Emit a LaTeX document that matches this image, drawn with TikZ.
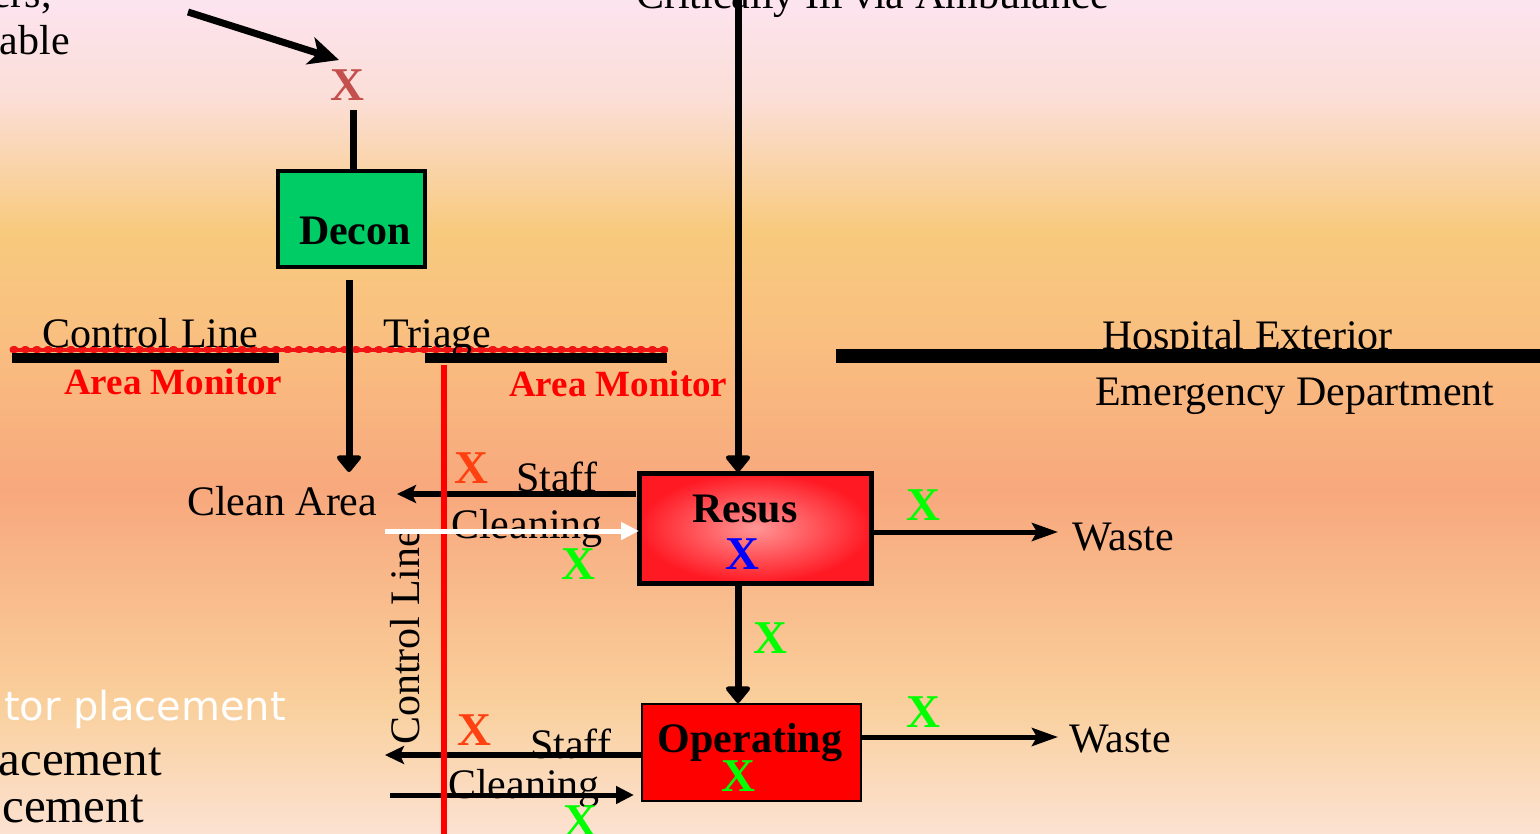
\documentclass[tikz,border=0pt]{standalone}
\usepackage{fontspec}
\setmainfont{Liberation Serif}
\newfontfamily\sansf{DejaVu Sans}
\usetikzlibrary{arrows.meta}
\definecolor{bgA}{RGB}{252,228,240}
\definecolor{bgB}{RGB}{251,222,214}
\definecolor{bgC}{RGB}{248,202,125}
\definecolor{bgD}{RGB}{249,192,128}
\definecolor{bgE}{RGB}{248,168,125}
\definecolor{bgF}{RGB}{249,207,155}
\definecolor{bgG}{RGB}{252,226,210}
\definecolor{decongreen}{RGB}{0,204,102}
\definecolor{xbrown}{RGB}{196,80,77}
\definecolor{xorange}{RGB}{255,64,16}
\definecolor{xgreen}{RGB}{0,255,0}
\definecolor{xblue}{RGB}{0,0,255}
\definecolor{linered}{RGB}{240,20,20}
\definecolor{resuscenter}{RGB}{255,150,150}
\definecolor{resusedge}{RGB}{255,25,35}
\tikzset{
  lbl/.style={inner sep=0pt, font=\fontsize{42}{48}\selectfont},
  bigl/.style={inner sep=0pt, font=\fontsize{49}{56}\selectfont},
  amon/.style={inner sep=0pt, text=red, font=\fontsize{37}{44}\selectfont\bfseries},
  boxtext/.style={inner sep=0pt, font=\fontsize{42}{48}\selectfont\bfseries},
  xmark/.style={inner sep=0pt, font=\fontsize{47}{52}\selectfont\bfseries},
  heavy/.style={line width=7pt, -{Triangle[length=18pt,width=28pt,round]}},
  staffarr/.style={line width=6pt, -{Stealth[length=19pt,width=18pt,inset=4pt]}},
  cleanarr/.style={line width=5pt, -{Triangle[length=18pt,width=17pt]}},
  wastearr/.style={line width=5pt, -{Stealth[length=26pt,width=18pt,inset=5pt]}},
  barrier/.style={line width=10pt},
}
\begin{document}
\begin{tikzpicture}[x=1pt,y=-1pt]
\useasboundingbox (0,0) rectangle (1540,834);
\clip (0,0) rectangle (1540,834);
% background
\shade[top color=bgA, bottom color=bgB] (0,-2) rectangle (1540,101);
\shade[top color=bgB, bottom color=bgC] (0,100) rectangle (1540,231);
\shade[top color=bgC, bottom color=bgD] (0,230) rectangle (1540,331);
\shade[top color=bgD, bottom color=bgE] (0,330) rectangle (1540,491);
\shade[top color=bgE, bottom color=bgF] (0,490) rectangle (1540,701);
\shade[top color=bgF, bottom color=bgG] (0,700) rectangle (1540,836);

% texts cut at the edges
\node[lbl, anchor=base east] (ers) at (52,8) {ers,};
\node[lbl, anchor=base east] (able) at (70,55) {able};
\node[lbl, anchor=base west] (amb) at (636,9) {Critically Ill via Ambulance};
\node[inner sep=0pt, anchor=base east, text=white, font=\sansf\fontsize{40}{46}\selectfont] (tor) at (286,720) {tor placement};
\node[bigl, anchor=base east] (acem) at (162,775) {acement};
\node[bigl, anchor=base east] (cem) at (144,822) {cement};

% barriers
\draw[barrier] (12,358) -- (279,358);
\draw[barrier] (425,358) -- (667,358);
\draw[line width=14pt] (836,356) -- (1545,356);
\draw[linered, line width=4pt] (10,350) -- (668,350);
\draw[linered, line width=7pt, line cap=round, dash pattern=on 2pt off 9.4pt] (13,350) -- (666,350);

\node[lbl, anchor=base west] (cl) at (42,348) {Control Line};
\node[lbl, anchor=base west] (tri) at (383,348) {Triage};
\node[lbl, anchor=base west] (hex) at (1102,350) {Hospital Exterior};
\node[lbl, anchor=base west] (ed) at (1095,405) {Emergency Department};
\node[amon, anchor=base west] (am1) at (64,394) {Area Monitor};
\node[amon, anchor=base west] (am2) at (509,396) {Area Monitor};

% decon
\node[draw, line width=4pt, fill=decongreen, minimum width=147pt, minimum height=96pt, outer sep=0pt] (decon) at (351.5,219) {};
\node[boxtext, anchor=base] (decont) at (355,245) {Decon};
\node[xmark, text=xbrown] (xdec) at (347,85) {X};
\coordinate (tl1) at (188,12);
\coordinate (tl2) at (339,60);
\draw[line width=7pt, -{Stealth[length=30pt,width=28pt,inset=8pt]}] (tl1) -- (tl2);
\coordinate (dtop) at (353,110);
\draw[line width=7pt] (dtop) -- (dtop |- decon.north);
\coordinate (d1) at (349,280);
\coordinate (d2) at (349,472);
\draw[heavy] (d1) -- (d2);
\node[lbl, anchor=base west] (clean) at (187,515) {Clean Area};

% resus
\node[draw, line width=5pt, inner color=resuscenter, outer color=resusedge, minimum width=232pt, minimum height=110pt, outer sep=0pt] (resus) at (755,528) {};
\node[boxtext, anchor=base] (resust) at (745,522) {Resus};
\node[xmark, text=xblue] (xres) at (742,554) {X};
\coordinate (ambl) at (738,-5);
\draw[heavy] (ambl) -- ([yshift=1pt]ambl |- resus.north);

% operating
\node[draw, line width=2pt, fill=red, minimum width=219pt, minimum height=97pt, outer sep=0pt] (op) at (751.5,752.5) {};
\node[boxtext, anchor=base] (opt) at (750,752) {Operating};
\node[xmark, text=xgreen] (xop) at (738,776) {X};
\draw[heavy] (ambl |- resus.south) -- ([yshift=1pt]ambl |- op.north);
\node[xmark, text=xgreen] (xro) at (770,638) {X};

% waste
\node[lbl, anchor=base west] (w1) at (1072,550) {Waste};
\node[lbl, anchor=base west] (w2) at (1069,752) {Waste};
\coordinate (w1a) at (1058,532);
\coordinate (w2a) at (1058,737);
\draw[wastearr] (resus.east |- w1a) -- (w1a);
\draw[wastearr] (op.east |- w2a) -- (w2a);
\node[xmark, text=xgreen] (xw1) at (923,505) {X};
\node[xmark, text=xgreen] (xw2) at (923,712) {X};

% staff / cleaning
\coordinate (s1) at (397,494);
\coordinate (s2) at (385,755);
\coordinate (c1) at (385,531);
\coordinate (c2) at (390,795);
\coordinate (c2e) at (634,795);
\draw[staffarr] ([xshift=-3pt]resus.west |- s1) -- (s1);
\draw[staffarr] (op.west |- s2) -- (s2);
\draw[cleanarr] (c2) -- (c2e);
\node[lbl, anchor=base west] (st1) at (516,491) {Staff};
\node[lbl, anchor=base west] (cn1) at (451,538) {Cleaning};
\node[lbl, anchor=base west] (st2) at (530,758) {Staff};
\node[lbl, anchor=base west] (cn2) at (448,798) {Cleaning};
\node[xmark, text=xorange] (xs1) at (471,468) {X};
\node[xmark, text=xorange] (xs2) at (474,730) {X};
\node[xmark, text=xgreen] (xc1) at (578,564) {X};
\node[xmark, text=xgreen] (xc2) at (580,821) {X};

% vertical control line
\coordinate (v1) at (444,365);
\coordinate (v2) at (444,840);
\draw[red, line width=6pt] (v1) -- (v2);
\node[lbl, anchor=base west, rotate=90] (clv) at (419,745) {Control Line};
\draw[cleanarr, white] (c1) -- (resus.west |- c1);
\end{tikzpicture}
\end{document}
